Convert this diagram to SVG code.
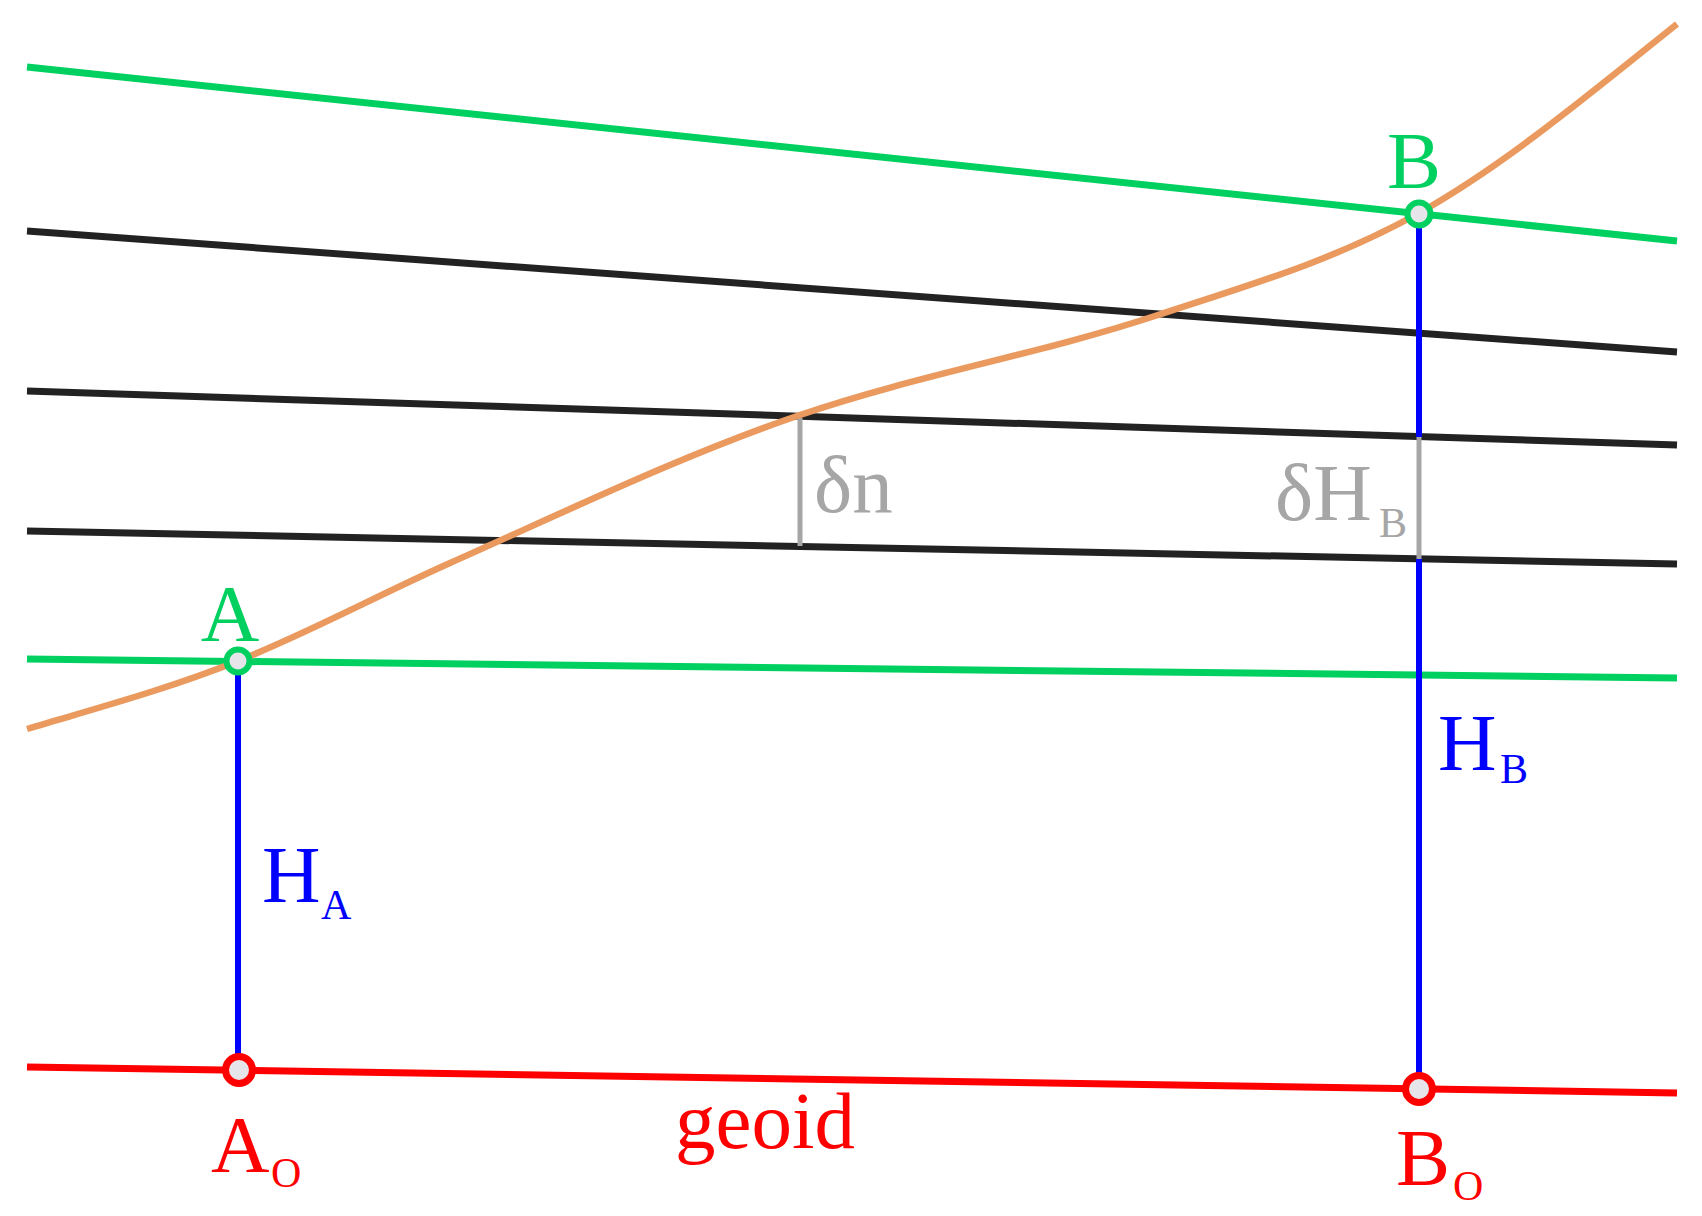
<svg xmlns="http://www.w3.org/2000/svg" width="1702" height="1216" viewBox="0 0 1702 1216">
<style>
.t{font-family:"Liberation Serif","Times New Roman",serif;font-size:81px}
.s{font-size:42px}
.g{fill:#00D060}.b{fill:#0000FF}.r{fill:#FF0000}.gr{fill:#A6A6A6}
.lg{stroke:#00D060;stroke-width:7;fill:none}
.lk{stroke:#222222;stroke-width:7;fill:none}
.lr{stroke:#FF0000;stroke-width:7;fill:none}
.lb{stroke:#0000FF;stroke-width:6;fill:none}
.lgr{stroke:#A6A6A6;stroke-width:5;fill:none}
.lo{stroke:#EB9A5F;stroke-width:6.5;fill:none}
</style>
<rect width="1702" height="1216" fill="#ffffff"/>
<g id="connectors">
<line class="lg" x1="27" y1="67" x2="1677" y2="241"/>
<line class="lk" x1="27" y1="231" x2="1677" y2="352"/>
<line class="lk" x1="27" y1="391" x2="1677" y2="445"/>
<line class="lk" x1="27" y1="531" x2="1677" y2="564"/>
<line class="lg" x1="27" y1="659" x2="1677" y2="678"/>
<line class="lr" x1="27" y1="1067" x2="1677" y2="1093"/>
<line class="lgr" x1="800" y1="418" x2="800" y2="546"/>
<line class="lb" x1="238" y1="661" x2="238" y2="1070"/>
<line class="lb" x1="1419" y1="214" x2="1419" y2="437"/>
<line class="lgr" x1="1419" y1="437" x2="1419" y2="559"/>
<line class="lb" x1="1419" y1="559" x2="1419" y2="1089"/>
<path class="lo" d="M27,729 C97.3,707.9 167.7,689.1 238,661 C308.7,632.7 379.3,594.5 450,563 C566.7,511.1 683.3,454.7 800,415 C919.3,374.4 1038.7,354.4 1158,315 C1245,286.3 1332,261.7 1419,213 C1505,164.8 1591,92.8 1677,24"/>
</g>
<g id="A">
<circle cx="238" cy="661" r="11.5" fill="#E6E6EA" stroke="#00D060" stroke-width="6"/>
<text class="t g" x="230" y="641" text-anchor="middle">A</text>
</g>
<g id="B">
<circle cx="1419" cy="214" r="11.5" fill="#E6E6EA" stroke="#00D060" stroke-width="6"/>
<text class="t g" x="1414" y="188" text-anchor="middle">B</text>
</g>
<g id="A0">
<circle cx="239" cy="1070" r="13.5" fill="#E6E6EA" stroke="#FF0000" stroke-width="7"/>
<text class="t r" x="211" y="1172">A<tspan class="s" x="271" y="1187">O</tspan></text>
</g>
<g id="B0">
<circle cx="1419" cy="1089" r="13.5" fill="#E6E6EA" stroke="#FF0000" stroke-width="7"/>
<text class="t r" x="1396" y="1185">B<tspan class="s" x="1453" y="1200">O</tspan></text>
</g>
<g id="HA">
<text class="t b" x="262" y="902">H<tspan class="s" x="321" y="919">A</tspan></text>
</g>
<g id="HB">
<text class="t b" x="1438" y="770">H<tspan class="s" x="1500" y="783">B</tspan></text>
</g>
<g id="dn">
<text class="t gr" x="814" y="512">δn</text>
</g>
<g id="dHB">
<text class="t gr" x="1275" y="520">δH<tspan class="s" x="1379" y="537">B</tspan></text>
</g>
<g id="geoid">
<text class="t r" x="675" y="1148">geoid</text>
</g>
</svg>
